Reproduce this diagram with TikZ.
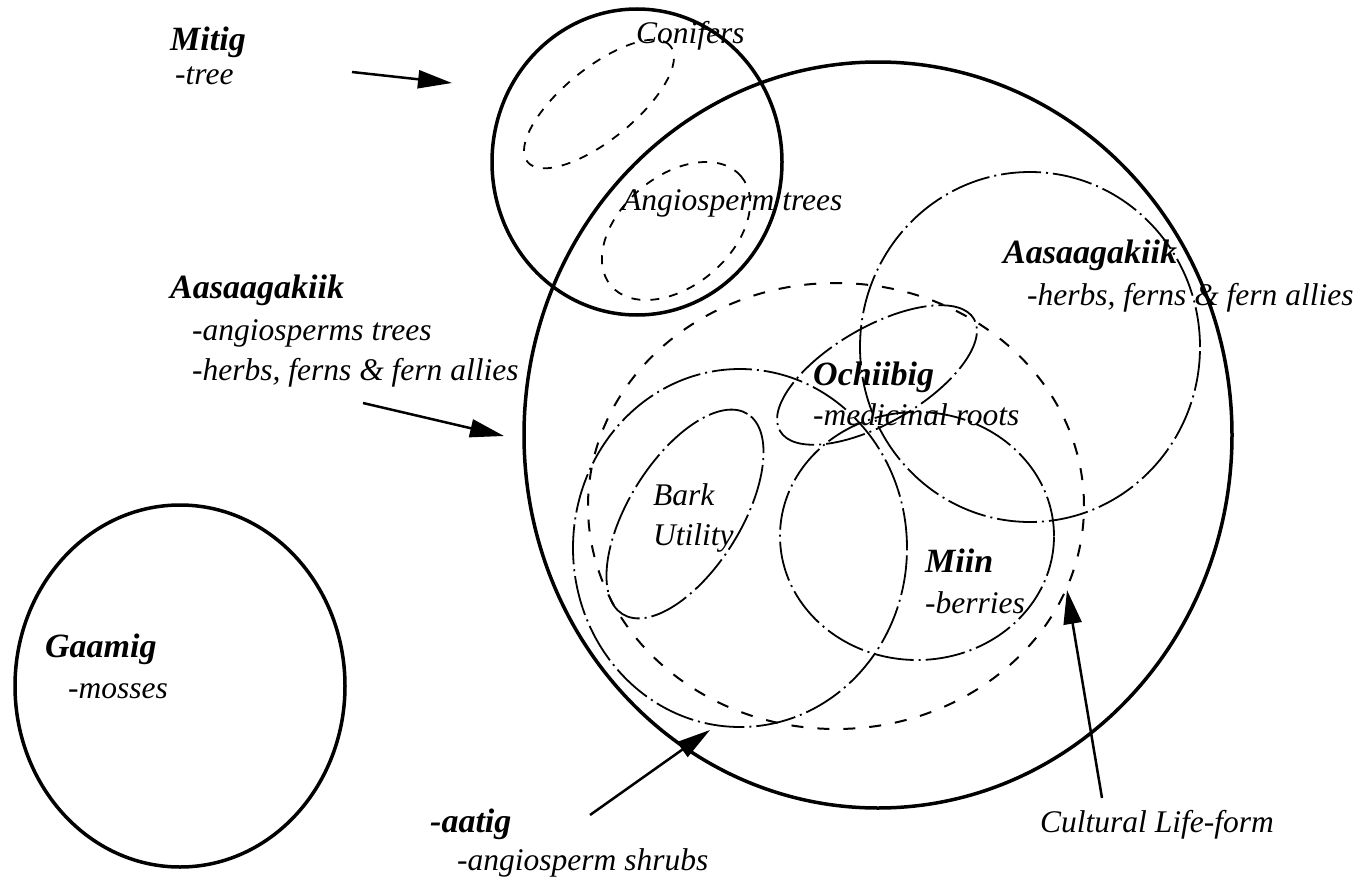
\documentclass[tikz,border=0pt]{standalone}
\usepackage{fontspec}
\setmainfont{Liberation Serif}
\usetikzlibrary{arrows.meta}
\begin{document}
\begin{tikzpicture}[x=1pt,y=-1pt,
  thickcirc/.style={line width=3.5pt},
  dashell/.style={line width=1.8pt, dash pattern=on 9pt off 10pt},
  cultcirc/.style={line width=2pt, dash pattern=on 12pt off 14pt},
  thinell/.style={line width=1.8pt, dash pattern=on 40pt off 5pt on 2pt off 5pt},
  lbl/.style={font=\fontsize{31.5}{36}\selectfont\itshape, inner sep=0pt, anchor=base west},
  blbl/.style={font=\fontsize{34}{38}\selectfont\bfseries\itshape, inner sep=0pt, anchor=base west},
  pointer/.style={line width=2.5pt, -{Triangle[length=34pt,width=18pt]}}
]
\fill[white] (0,0) rectangle (1361,886);
\useasboundingbox (0,0) rectangle (1361,886);

% thick circles
\draw[thickcirc] (180,686) ellipse [x radius=165pt, y radius=181pt];
\draw[thickcirc] (637,162) ellipse [x radius=145pt, y radius=153pt];
\draw[thickcirc] (878,435) ellipse [x radius=354pt, y radius=373pt];

% dashed ellipses in Mitig circle
\draw[dashell, rotate around={39:(599,104)}] (599,104) ellipse [x radius=92pt, y radius=36pt];
\draw[dashell, rotate around={40:(676,231)}] (676,231) ellipse [x radius=85pt, y radius=55pt];

% cultural life-form dashed circle
\draw[cultcirc] (836,506) ellipse [x radius=248pt, y radius=223pt];

% thin dash-dot shapes
\draw[thinell] (740,548) ellipse [x radius=167pt, y radius=179pt];
\draw[thinell, rotate around={58:(685,514)}] (685,514) ellipse [x radius=118pt, y radius=56pt];
\draw[thinell, rotate around={30:(877,375)}] (877,375) ellipse [x radius=112pt, y radius=48pt];
\draw[thinell] (917,536) ellipse [x radius=137pt, y radius=124pt];
\draw[thinell] (1030,347) ellipse [x radius=170pt, y radius=175pt];

% labels
\node[blbl] (mitig) at (170,50) {Mitig};
\node[lbl] (tree) at (175,84) {-tree};
\node[lbl] (conif) at (636,43) {Conifers};
\node[lbl] (angtr) at (622,210) {Angiosperm trees};
\node[blbl] (aasL) at (170,298) {Aasaagakiik};
\node[lbl] (angL) at (192,340) {-angiosperms trees};
\node[lbl] (herbL) at (192,380) {-herbs, ferns \& fern allies};
\node[blbl] (aasR) at (1003,263) {Aasaagakiik};
\node[lbl] (herbR) at (1027,305) {-herbs, ferns \& fern allies};
\node[blbl] (ochi) at (813,385) {Ochiibig};
\node[lbl] (medi) at (813,425) {-medicinal roots};
\node[lbl] (bark) at (653,505) {Bark};
\node[lbl] (util) at (653,545) {Utility};
\node[blbl] (miin) at (925,572) {Miin};
\node[lbl] (berr) at (925,613) {-berries};
\node[blbl] (gaam) at (45,657) {Gaamig};
\node[lbl] (moss) at (68,698) {-mosses};
\node[blbl] (aatig) at (430,832) {-aatig};
\node[lbl] (shrub) at (457,870) {-angiosperm shrubs};
\node[lbl] (cult) at (1040,832) {Cultural Life-form};

% arrows
\coordinate (a1s) at (352,72);
\coordinate (a1e) at (452,83);
\coordinate (a2s) at (363,403);
\coordinate (a2e) at (504,436);
\coordinate (a3s) at (590,815);
\coordinate (a3e) at (710,730);
\coordinate (a4s) at (1102,798);
\coordinate (a4e) at (1067,590);
\draw[pointer] (a1s) -- (a1e);
\draw[pointer] (a2s) -- (a2e);
\draw[pointer] (a3s) -- (a3e);
\draw[pointer] (a4s) -- (a4e);
\end{tikzpicture}
\end{document}
